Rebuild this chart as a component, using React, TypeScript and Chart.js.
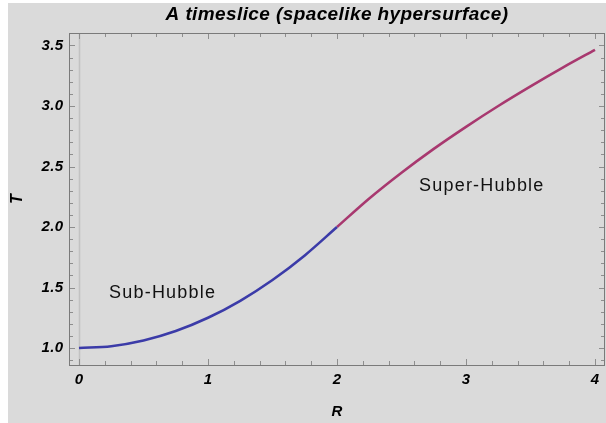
import React, { useEffect, useRef } from "react";
import { Chart, registerables } from "chart.js";

Chart.register(...registerables);

// Sub-Hubble branch (R, T)
const subR = [0, 0.25, 0.5, 0.75, 1, 1.25, 1.5, 1.75, 2];
const subT = [1, 1.0156, 1.0625, 1.1406, 1.25, 1.3906, 1.5625, 1.7656, 2];
// Super-Hubble branch (R, T)
const superR = [2, 2.25, 2.5, 2.75, 3, 3.25, 3.5, 3.75, 4];
const superT = [2, 2.236, 2.449, 2.646, 2.828, 3.0, 3.162, 3.317, 3.464];

const xTicks = [0, 1, 2, 3, 4];
const yTicks = [1.0, 1.5, 2.0, 2.5, 3.0, 3.5];

const labelTexts = ["Sub-Hubble", "Super-Hubble"];
const labelR = [0.233, 2.636];
const labelT = [1.413, 2.2975];

const X_MIN = -0.0775;
const X_MAX = 4.0775;
const Y_MIN = 0.86;
const Y_MAX = 3.603;

const FAMILY = '"Liberation Sans", Arial, Helvetica, sans-serif';

const spacingPlugin = {
  id: "mmaSpacing",
  beforeDraw(chart: any) {
    (chart.ctx as any).letterSpacing = "0.4px";
  },
};

const framePlugin = {
  id: "mmaFrame",
  beforeDatasetsDraw(chart: any) {
    const { ctx, chartArea } = chart;
    const xs = chart.scales.x;
    const ys = chart.scales.y;
    const { left, right, top, bottom } = chartArea;
    ctx.save();
    // origin axis line at R = 0
    const x0 = Math.round(xs.getPixelForValue(0)) + 0.5;
    ctx.strokeStyle = "#c2c2c2";
    ctx.lineWidth = 1.6;
    ctx.beginPath();
    ctx.moveTo(x0, top);
    ctx.lineTo(x0, bottom);
    ctx.stroke();

    // ticks
    ctx.strokeStyle = "#8e8e8e";
    ctx.lineWidth = 1;
    for (let i = 0; i <= 20; i++) {
      const v = i * 0.2;
      const major = i % 5 === 0;
      const len = major ? 6 : 4;
      const px = Math.round(xs.getPixelForValue(v)) + 0.5;
      ctx.beginPath();
      ctx.moveTo(px, bottom);
      ctx.lineTo(px, bottom - len);
      ctx.moveTo(px, top);
      ctx.lineTo(px, top + len);
      ctx.stroke();
    }
    for (let i = 9; i <= 36; i++) {
      const v = i / 10;
      if (v < Y_MIN || v > Y_MAX) continue;
      const major = i % 5 === 0;
      const len = major ? 6 : 4;
      const py = Math.round(ys.getPixelForValue(v)) + 0.5;
      ctx.beginPath();
      ctx.moveTo(left, py);
      ctx.lineTo(left + len, py);
      ctx.moveTo(right, py);
      ctx.lineTo(right - len, py);
      ctx.stroke();
    }

    // frame
    ctx.strokeStyle = "#7a7a7a";
    ctx.lineWidth = 1;
    ctx.strokeRect(Math.round(left) + 0.5, Math.round(top) + 0.5, Math.round(right - left) - 1, Math.round(bottom - top));
    ctx.restore();
  },
  afterDatasetsDraw(chart: any) {
    const { ctx } = chart;
    const xs = chart.scales.x;
    const ys = chart.scales.y;
    ctx.save();
    ctx.fillStyle = "#111111";
    ctx.font = `18px ${FAMILY}`;
    (ctx as any).letterSpacing = "1.2px";
    ctx.textAlign = "left";
    ctx.textBaseline = "alphabetic";
    labelTexts.forEach((t, i) => {
      ctx.fillText(t, xs.getPixelForValue(labelR[i]), ys.getPixelForValue(labelT[i]));
    });
    ctx.restore();
  },
};

export default function App() {
  const ref = useRef<HTMLCanvasElement | null>(null);
  useEffect(() => {
    if (!ref.current) return;
    const chart = new Chart(ref.current, {
      type: "line",
      data: {
        datasets: [
          {
            label: "Sub-Hubble",
            data: subR.map((r, i) => ({ x: r, y: subT[i] })),
            borderColor: "#3b3ba8",
            borderWidth: 2.6,
            pointRadius: 0,
            cubicInterpolationMode: "monotone",
            fill: false,
          },
          {
            label: "Super-Hubble",
            data: superR.map((r, i) => ({ x: r, y: superT[i] })),
            borderColor: "#a8386f",
            borderWidth: 2.6,
            pointRadius: 0,
            cubicInterpolationMode: "monotone",
            fill: false,
          },
        ],
      },
      options: {
        animation: false,
        responsive: false,
        devicePixelRatio: 1,
        layout: { padding: { left: 0, right: 1, top: 0, bottom: 0 } },
        plugins: {
          legend: { display: false },
          tooltip: { enabled: false },
          title: {
            display: true,
            text: "A timeslice (spacelike hypersurface)",
            fullSize: false,
            color: "#000000",
            font: { family: FAMILY, size: 19, weight: "bold", style: "italic", lineHeight: 1.2 },
            padding: { top: 0, bottom: 7.2 },
          },
        },
        scales: {
          x: {
            type: "linear",
            min: X_MIN,
            max: X_MAX,
            afterFit: (s: any) => {
              s.height = 58;
            },
            afterBuildTicks: (s: any) => {
              s.ticks = xTicks.map((v) => ({ value: v }));
            },
            ticks: {
              padding: 6,
              color: "#000000",
              maxRotation: 0,
              font: { family: FAMILY, size: 15, weight: "bold", style: "italic" },
              callback: (v: any) => String(v),
            },
            grid: { display: false, drawTicks: false },
            border: { display: false },
            title: {
              display: true,
              text: "R",
              color: "#000000",
              font: { family: FAMILY, size: 15, weight: "bold", style: "italic", lineHeight: 1.2 },
              padding: { top: 0, bottom: 2.5 },
            },
          },
          y: {
            type: "linear",
            min: Y_MIN,
            max: Y_MAX,
            afterFit: (s: any) => {
              s.width = 61;
            },
            afterBuildTicks: (s: any) => {
              s.ticks = yTicks.map((v) => ({ value: v }));
            },
            ticks: {
              padding: 5.5,
              color: "#000000",
              font: { family: FAMILY, size: 15, weight: "bold", style: "italic" },
              callback: (v: any) => Number(v).toFixed(1),
            },
            grid: { display: false, drawTicks: false },
            border: { display: false },
            title: {
              display: true,
              text: "T",
              color: "#000000",
              font: { family: FAMILY, size: 16, weight: "bold", style: "italic", lineHeight: 1.2 },
              padding: { top: 0, bottom: 0 },
            },
          },
        },
      },
      plugins: [spacingPlugin, framePlugin],
    } as any);
    return () => chart.destroy();
  }, []);

  return (
    <div
      style={{
        position: "fixed",
        left: 8,
        top: 3,
        width: 598,
        height: 420,
        background: "#dadada",
      }}
    >
      <canvas ref={ref} width={598} height={420} style={{ display: "block", width: 598, height: 420 }} />
    </div>
  );
}
